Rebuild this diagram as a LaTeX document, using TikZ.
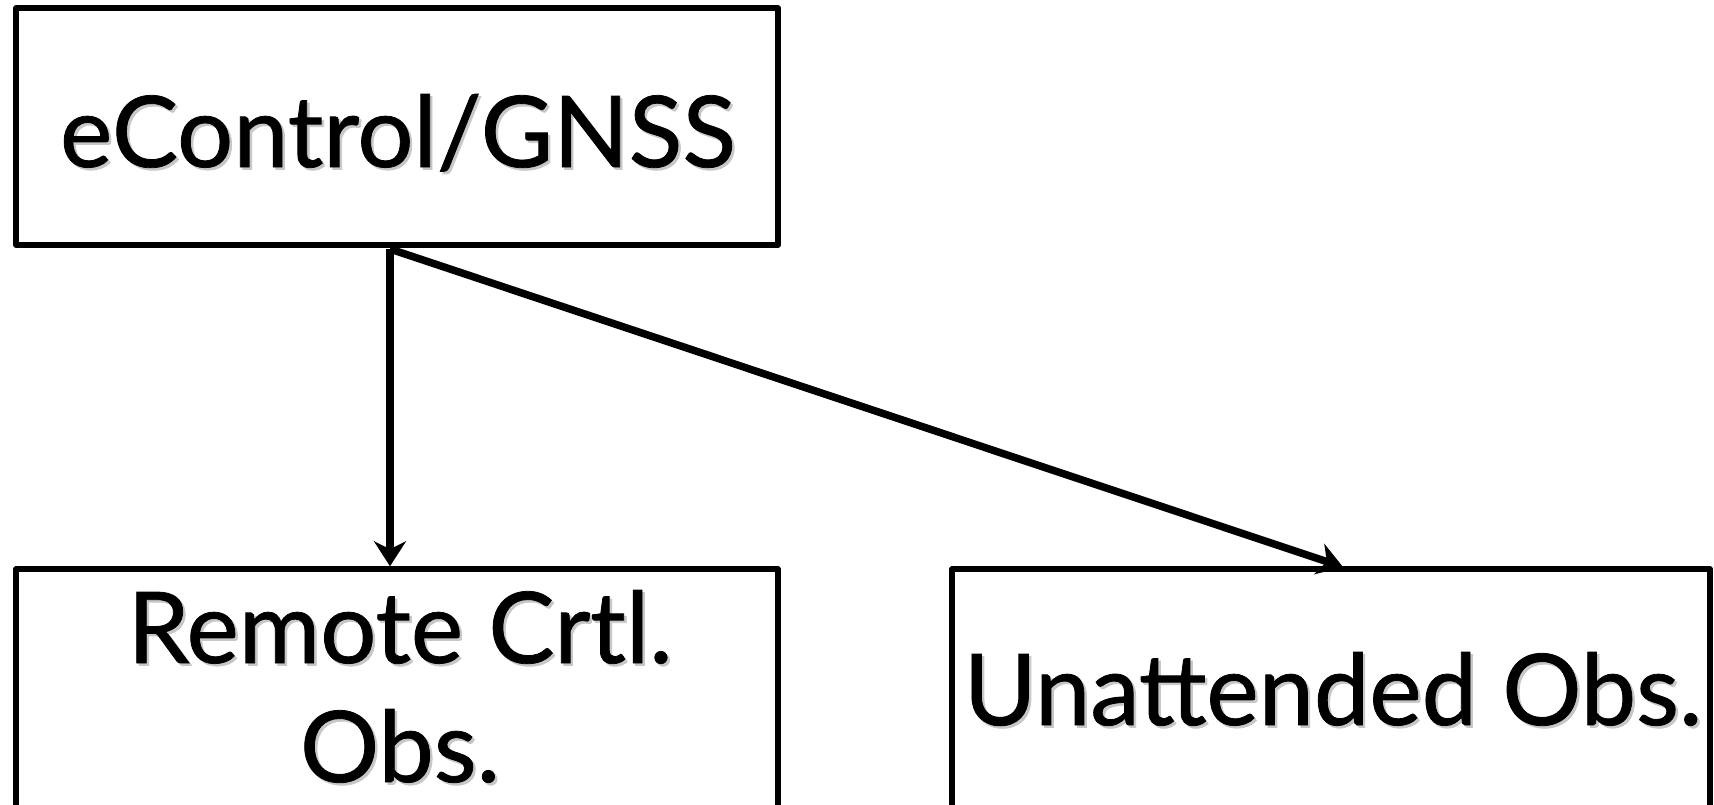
\documentclass[tikz,border=0pt]{standalone}
\usepackage{fontspec}
\setmainfont{Lato}[FakeBold=0.8]
\usetikzlibrary{arrows.meta}
\newcommand{\shtxt}[1]{\makebox[0pt][l]{\hspace{2.5pt}\raisebox{-2.5pt}{\textcolor{black!22}{#1}}}#1}
\tikzset{
  box/.style={draw=black, line width=5.5pt, fill=white, inner sep=0pt, line join=round},
  big/.style={font=\fontsize{99}{116}\selectfont, inner sep=0pt, anchor=base},
  conn/.style={line width=7.5pt, -{Stealth[length=25pt, width=32pt, inset=8pt]}}
}
\begin{document}
\begin{tikzpicture}[x=1pt, y=-1pt]
\useasboundingbox (0,0) rectangle (1714,804);
\fill[white] (0,0) rectangle (1714,804);
\node[box, minimum width=762pt, minimum height=237pt] (top) at (397,126.5) {};
\node[box, minimum width=762pt, minimum height=240pt] (rem) at (397,689) {};
\node[box, minimum width=758pt, minimum height=240pt] (una) at (1331,689) {};
\node[big] (ttop) at (398,167) {\shtxt{eControl/GNSS}};
\node[big] (trem1) at (400,663) {\shtxt{Remote Crtl.}};
\node[big] (trem2) at (400,782) {\shtxt{Obs.}};
\node[big] (tuna) at (1333,725) {\shtxt{Unattended Obs.}};
\coordinate (src) at (390,249);
\coordinate (dst) at (1343,567);
\draw[conn] (src) -- (src |- rem.north);
\draw[conn] (src) -- (dst);
\end{tikzpicture}
\end{document}
